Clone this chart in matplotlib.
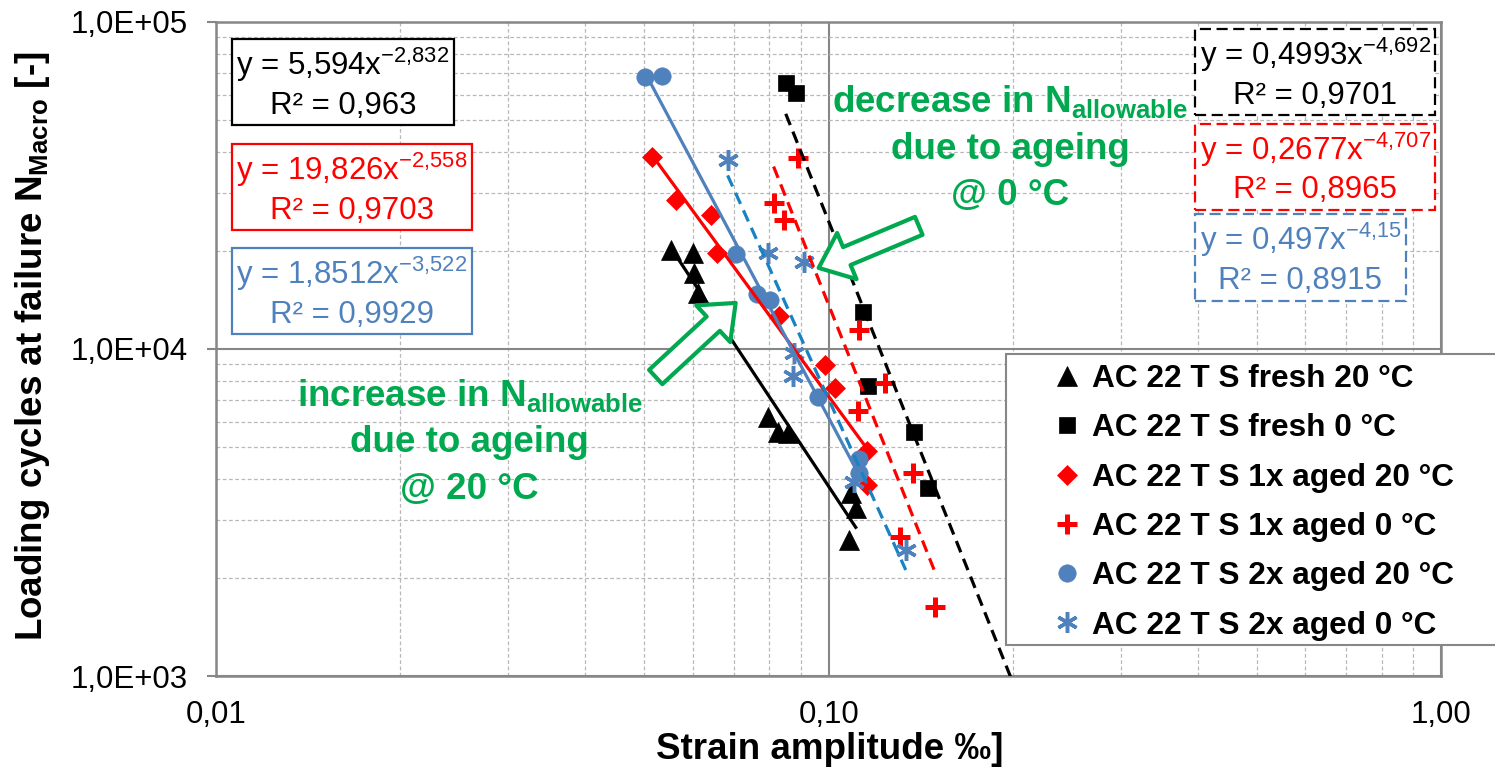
import numpy as np
import matplotlib.pyplot as plt
from matplotlib.patches import Rectangle
from matplotlib.ticker import FixedLocator, FixedFormatter, LogLocator, NullFormatter

plt.rcParams['font.family'] = ['Liberation Sans', 'DejaVu Sans']
plt.rcParams['mathtext.default'] = 'regular'

# strain amplitude [permille] / loading cycles at failure
fresh20_x = [0.0552, 0.0601, 0.0603, 0.0611, 0.0795, 0.0826, 0.0857, 0.1086, 0.1107, 0.1078]
fresh20_y = [20090, 19700, 17070, 14840, 6195, 5575, 5535, 3628, 3264, 2606]
fresh0_x = [0.0851, 0.0883, 0.1137, 0.1158, 0.1377, 0.1451]
fresh0_y = [65080, 60640, 12980, 7705, 5575, 3758]
aged1_20_x = [0.0514, 0.0564, 0.0642, 0.0656, 0.0829, 0.0985, 0.1023, 0.1153, 0.1153]
aged1_20_y = [38650, 28560, 25700, 19670, 12620, 8930, 7600, 4875, 3838]
aged1_0_x = [0.0890, 0.0813, 0.0844, 0.1119, 0.1235, 0.1115, 0.1372, 0.1306, 0.1490]
aged1_0_y = [38390, 27940, 24790, 11430, 7870, 6460, 4175, 2661, 1625]
aged2_20_x = [0.0502, 0.0534, 0.0707, 0.0765, 0.0801, 0.0960, 0.1119, 0.1119]
aged2_20_y = [67890, 68390, 19530, 14730, 14120, 7130, 4610, 4175]
aged2_0_x = [0.0684, 0.0795, 0.0911, 0.0877, 0.0874, 0.1098, 0.1336]
aged2_0_y = [37840, 19670, 18450, 9720, 8265, 3920, 2428]

labels = ['AC 22 T S fresh 20 °C', 'AC 22 T S fresh 0 °C', 'AC 22 T S 1x aged 20 °C',
          'AC 22 T S 1x aged 0 °C', 'AC 22 T S 2x aged 20 °C', 'AC 22 T S 2x aged 0 °C']

# Excel power trendlines y = a * x^b
fit_a = [5.594, 0.4993, 19.826, 0.2677, 1.8512, 0.497]
fit_b = [-2.832, -4.692, -2.558, -4.707, -3.522, -4.15]
fit_a_txt = ['5,594', '0,4993', '19,826', '0,2677', '1,8512', '0,497']
fit_b_txt = ['-2,832', '-4,692', '-2,558', '-4,707', '-3,522', '-4,15']
fit_r2_txt = ['0,963', '0,9701', '0,9703', '0,8965', '0,9929', '0,8915']
fit_forward = [0, 0.07, 0, 0, 0, 0]   # forecast forward (only fresh 0 °C)

xs = [fresh20_x, fresh0_x, aged1_20_x, aged1_0_x, aged2_20_x, aged2_0_x]
ys = [fresh20_y, fresh0_y, aged1_20_y, aged1_0_y, aged2_20_y, aged2_0_y]

blue = '#4f81bd'
green = '#00a84f'
grey = '#878787'
mark_col = ['black', 'black', 'red', 'red', blue, blue]
line_col = ['black', 'black', 'red', 'red', blue, '#1783c2']
markers = ['^', 's', 'D', '+', 'o', (6, 2, 0)]
msizes = [15, 12, 10.5, 14, 12.5, 15]
mews = [0.5, 0.5, 0.5, 3.6, 0.5, 2.5]
dashed = [False, True, False, True, False, True]

fig = plt.figure(figsize=(14.95, 7.79), dpi=100)
ax = fig.add_axes([0.1445, 0.1322, 0.8196, 0.8396])
ax.set_xscale('log')
ax.set_yscale('log')
ax.set_xlim(0.01, 1)
ax.set_ylim(1e3, 1e5)

handles = []
for i in range(6):
    h, = ax.plot(xs[i], ys[i], ls='none', marker=markers[i], ms=msizes[i],
                 color=mark_col[i], mec=mark_col[i], mew=mews[i], zorder=3)
    handles.append(h)
    x0 = min(xs[i])
    x1 = max(xs[i]) + fit_forward[i]
    xf = np.array([x0, x1])
    yf = fit_a[i] * xf ** fit_b[i]
    if dashed[i]:
        ax.plot(xf, yf, color=line_col[i], lw=2.3, dashes=(3.8, 2.2), zorder=4)
    else:
        ax.plot(xf, yf, color=line_col[i], lw=2.3, zorder=4)

# grid and axes
ax.xaxis.set_major_locator(FixedLocator([0.01, 0.1, 1]))
ax.xaxis.set_major_formatter(FixedFormatter(['0,01', '0,10', '1,00']))
ax.yaxis.set_major_locator(FixedLocator([1e3, 1e4, 1e5]))
ax.yaxis.set_major_formatter(FixedFormatter(['1,0E+03', '1,0E+04', '1,0E+05']))
ax.xaxis.set_minor_locator(LogLocator(base=10, subs=np.arange(2, 10)))
ax.yaxis.set_minor_locator(LogLocator(base=10, subs=np.arange(2, 10)))
ax.xaxis.set_minor_formatter(NullFormatter())
ax.yaxis.set_minor_formatter(NullFormatter())
ax.grid(which='major', color=grey, lw=1.5, ls='-')
ax.grid(which='minor', color='#b8b8b8', lw=0.9, ls=(0, (3, 2)))
ax.set_axisbelow(True)
for s in ax.spines.values():
    s.set_color(grey)
    s.set_linewidth(1.8)
ax.tick_params(which='minor', length=0)
ax.tick_params(axis='y', which='major', length=6.5, width=1.5, color=grey, pad=14, labelsize=22.5)
ax.tick_params(axis='x', which='major', length=0, pad=17, labelsize=22.5)

ax.set_xlabel('Strain amplitude ‰]', fontsize=26.5, fontweight='bold')
ax.xaxis.set_label_coords(0.501, -0.086)
ax.set_ylabel('Loading cycles at failure N$_{Macro}$ [-]', fontsize=26.5, fontweight='bold')
ax.yaxis.set_label_coords(-0.134, 0.505)

# trendline equation boxes (axes fraction positions)
box_pos = [(0.1037, 0.9067), (0.897, 0.922), (0.111, 0.746), (0.897, 0.777), (0.111, 0.587), (0.885, 0.638)]
for i in range(6):
    txt = 'y = %sx$^{%s}$\nR² = %s' % (fit_a_txt[i], fit_b_txt[i].replace(',', '{,}'), fit_r2_txt[i])
    ax.text(box_pos[i][0], box_pos[i][1], txt, transform=ax.transAxes, ha='center', va='center',
            multialignment='center', fontsize=22.5, color=line_col[i] if i != 5 else blue,
            linespacing=1.3, zorder=6,
            bbox=dict(boxstyle='square,pad=0.15', fc='white', ec=mark_col[i],
                      lw=1.6, ls=(0, (5, 2.5)) if dashed[i] else '-'))

# annotations
ax.text(0.648, 0.807, 'decrease in N$_{allowable}$\ndue to ageing\n@ 0 °C', transform=ax.transAxes,
        ha='center', va='center', multialignment='center', fontsize=26.5, fontweight='bold',
        color=green, linespacing=1.42, zorder=6)
ax.text(0.207, 0.358, 'increase in N$_{allowable}$\ndue to ageing\n@ 20 °C', transform=ax.transAxes,
        ha='center', va='center', multialignment='center', fontsize=26.5, fontweight='bold',
        color=green, linespacing=1.42, zorder=6)
arrow_style = 'simple,head_length=2.2,head_width=3.6,tail_width=1.4'
ax.annotate('', xy=(0.0963, 17700), xytext=(0.1403, 23800),
            arrowprops=dict(arrowstyle=arrow_style, mutation_scale=10, fc='white', ec=green,
                            lw=3, shrinkA=0, shrinkB=0), zorder=6)
ax.annotate('', xy=(0.0705, 13830), xytext=(0.0522, 8210),
            arrowprops=dict(arrowstyle=arrow_style, mutation_scale=10, fc='white', ec=green,
                            lw=3, shrinkA=0, shrinkB=0), zorder=6)

# legend with its own frame reaching the right edge
fig.add_artist(Rectangle((1006 / 1495, 1 - 645 / 779), 0.5, (645 - 354) / 779,
                         transform=fig.transFigure, fc='white', ec=grey, lw=1.5, zorder=3))
fig.legend(handles, labels, loc='upper left', bbox_to_anchor=(1051 / 1495, 1 - 364 / 779),
           bbox_transform=fig.transFigure, frameon=False, prop=dict(weight='bold', size=22.8),
           handlelength=1.0, handletextpad=0.3, labelspacing=0.61, borderpad=0, borderaxespad=0)

fig.savefig('out.png', dpi=100)
